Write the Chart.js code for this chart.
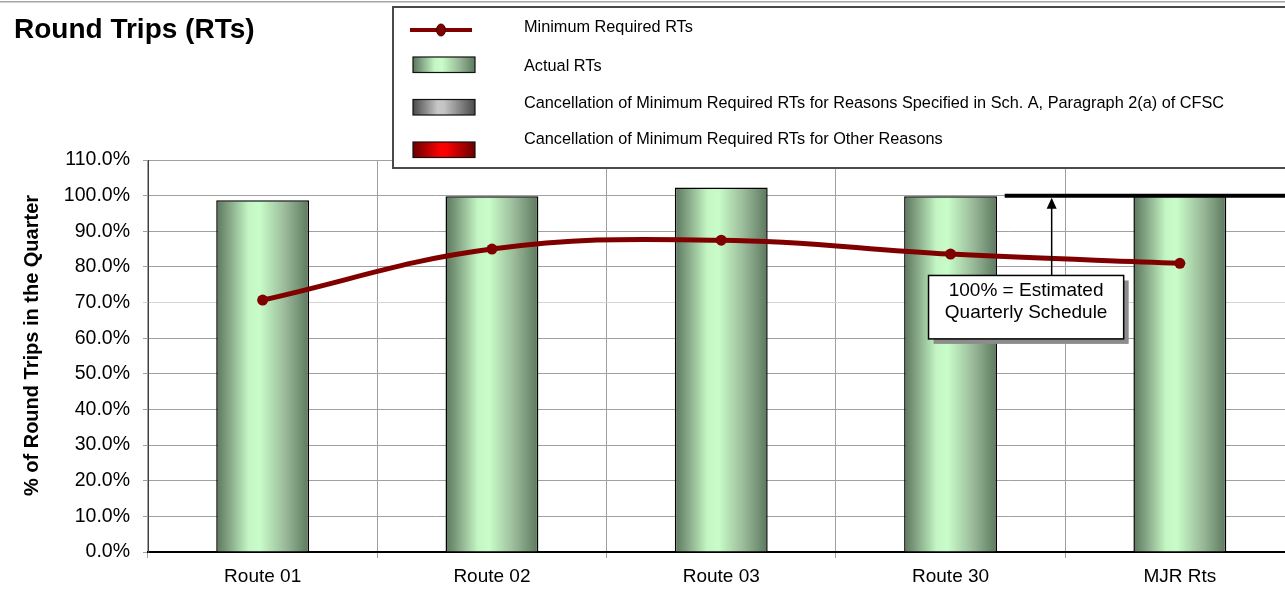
<!DOCTYPE html>
<html><head><meta charset="utf-8">
<script src="https://cdn.jsdelivr.net/npm/chart.js@4.4.1/dist/chart.umd.min.js"></script>
<style>
html,body{margin:0;padding:0;background:#fff;overflow:hidden;width:1285px;height:603px}
#wrap{position:absolute;left:0;top:0;width:1300px;height:603px}
canvas{display:block}
</style></head><body>
<div id="wrap"><canvas id="c" width="1300" height="603"></canvas></div>
<script>
const chartTitle = 'Round Trips (RTs)';
const yAxisTitle = '% of Round Trips in the Quarter';
const categories = ['Route 01', 'Route 02', 'Route 03', 'Route 30', 'MJR Rts'];
const actualRTs = [98.7, 99.8, 102.3, 99.8, 100.1];
const minRequiredRTs = [70.7, 85.0, 87.5, 83.6, 81.0];
const yTickValues = [0, 10, 20, 30, 40, 50, 60, 70, 80, 90, 100, 110];
const legendLabels = [
  'Minimum Required RTs',
  'Actual RTs',
  'Cancellation of Minimum Required RTs for Reasons Specified in Sch. A, Paragraph 2(a) of CFSC',
  'Cancellation of Minimum Required RTs for Other Reasons'
];
const noteLines = ['100% = Estimated', 'Quarterly Schedule'];
const scheduleLevel = 100;

const FONT = '"Liberation Sans", Arial, sans-serif';
const LINE_COLOR = '#800000';

function hGrad(ctx, x0, x1, stops) {
  const g = ctx.createLinearGradient(x0, 0, x1, 0);
  stops.forEach(s => g.addColorStop(s[0], s[1]));
  return g;
}
const greenStops = [[0, '#5b775d'], [0.12, '#7f9f80'], [0.35, '#c4f6c4'], [0.47, '#c8fcc8'], [0.75, '#98b898'], [1, '#5c785e']];
const grayStops = [[0, '#4a4a4a'], [0.4, '#c8c8c8'], [0.5, '#c4c4c4'], [1, '#4a4a4a']];
const redStops = [[0, '#6a0000'], [0.45, '#ff0000'], [0.55, '#f80000'], [1, '#6a0000']];

function barFill(context) {
  const chart = context.chart;
  const xs = chart.scales.x;
  if (!xs || !chart.chartArea) return '#b0e0b0';
  const step = (xs.right - xs.left) / categories.length;
  const w = step * 0.405;
  const xc = xs.getPixelForValue(context.dataIndex);
  return hGrad(chart.ctx, xc - w / 2, xc + w / 2, greenStops);
}

const decorPlugin = {
  id: 'decor',
  afterDatasetsDraw(chart) {
    const { ctx, chartArea: a, scales: { x, y } } = chart;
    const step = (a.right - a.left) / categories.length;
    const yy = y.getPixelForValue(scheduleLevel);
    const base = x.getPixelForValue(3);
    ctx.save();
    ctx.strokeStyle = '#000';
    ctx.lineWidth = 4;
    ctx.beginPath();
    ctx.moveTo(base + step * 0.236, yy);
    ctx.lineTo(a.right + 10, yy);
    ctx.stroke();
    const bl = base - step * 0.096, br = base + step * 0.755;
    const bt = y.getPixelForValue(77.6), bb = y.getPixelForValue(59.8);
    const ax = base + step * 0.441;
    ctx.lineWidth = 1.5;
    ctx.beginPath();
    ctx.moveTo(ax, bt);
    ctx.lineTo(ax, yy + 10);
    ctx.stroke();
    ctx.fillStyle = '#000';
    ctx.beginPath();
    ctx.moveTo(ax, yy + 2);
    ctx.lineTo(ax - 5, yy + 13);
    ctx.lineTo(ax + 5, yy + 13);
    ctx.closePath();
    ctx.fill();
    ctx.fillStyle = '#8c8c8c';
    ctx.fillRect(bl + 5, bt + 5, br - bl, bb - bt);
    ctx.fillStyle = '#fff';
    ctx.fillRect(bl, bt, br - bl, bb - bt);
    ctx.strokeStyle = '#000';
    ctx.lineWidth = 1.5;
    ctx.strokeRect(bl, bt, br - bl, bb - bt);
    ctx.fillStyle = '#000';
    ctx.font = '19px ' + FONT;
    ctx.textAlign = 'center';
    ctx.textBaseline = 'alphabetic';
    ctx.fillText(noteLines[0], (bl + br) / 2, bt + 20.5);
    ctx.fillText(noteLines[1], (bl + br) / 2, bt + 42.5);
    ctx.restore();
  },
  afterDraw(chart) {
    const ctx = chart.ctx;
    ctx.save();
    ctx.fillStyle = '#a6a6a6';
    ctx.fillRect(0, 1, chart.width, 1.5);
    ctx.fillStyle = '#000';
    ctx.font = 'bold 28px ' + FONT;
    ctx.textAlign = 'left';
    ctx.textBaseline = 'alphabetic';
    ctx.fillText(chartTitle, 14, 38.3);
    ctx.save();
    ctx.translate(37.5, 345.5);
    ctx.rotate(-Math.PI / 2);
    ctx.font = 'bold 20px ' + FONT;
    ctx.textAlign = 'center';
    ctx.fillText(yAxisTitle, 0, 0);
    ctx.restore();
    const lx = 393, ly = 7, lw = 1000, lh = 161;
    ctx.fillStyle = '#fff';
    ctx.fillRect(lx, ly, lw, lh);
    ctx.strokeStyle = '#4a4a4a';
    ctx.lineWidth = 2;
    ctx.strokeRect(lx, ly, lw, lh);
    ctx.strokeStyle = LINE_COLOR;
    ctx.lineWidth = 4;
    ctx.beginPath();
    ctx.moveTo(410, 30);
    ctx.lineTo(472, 30);
    ctx.stroke();
    ctx.fillStyle = LINE_COLOR;
    ctx.beginPath();
    ctx.ellipse(441, 30, 4.5, 6, 0, 0, Math.PI * 2);
    ctx.fill();
    ctx.strokeStyle = '#3a0000';
    ctx.lineWidth = 1;
    ctx.stroke();
    const sw = [[57, greenStops], [99.5, grayStops], [142, redStops]];
    sw.forEach(([sy, stops]) => {
      ctx.fillStyle = hGrad(ctx, 413, 475, stops);
      ctx.fillRect(413, sy, 62, 15.5);
      ctx.strokeStyle = '#111';
      ctx.lineWidth = 1.2;
      ctx.strokeRect(413, sy, 62, 15.5);
    });
    ctx.fillStyle = '#000';
    ctx.font = '16.3px ' + FONT;
    ctx.textAlign = 'left';
    const baselines = [31.7, 71, 108.3, 144];
    legendLabels.forEach((t, i) => ctx.fillText(t, 524, baselines[i]));
    ctx.restore();
  }
};

new Chart(document.getElementById('c'), {
  type: 'bar',
  data: {
    labels: categories,
    datasets: [
      {
        type: 'line',
        label: legendLabels[0],
        data: minRequiredRTs,
        borderColor: LINE_COLOR,
        backgroundColor: LINE_COLOR,
        borderWidth: 5,
        pointRadius: 5.5,
        pointBackgroundColor: LINE_COLOR,
        pointBorderWidth: 0,
        tension: 0.4,
        order: 0
      },
      {
        type: 'bar',
        label: legendLabels[1],
        data: actualRTs,
        backgroundColor: barFill,
        borderColor: '#000',
        borderWidth: 1.5,
        barPercentage: 0.405,
        categoryPercentage: 1,
        order: 1
      }
    ]
  },
  options: {
    responsive: false,
    animation: false,
    events: [],
    devicePixelRatio: 1,
    layout: { padding: { top: 160, left: 0, right: 0, bottom: 0 } },
    plugins: { legend: { display: false }, tooltip: { enabled: false }, title: { display: false } },
    scales: {
      x: {
        offset: true,
        grid: { display: true, color: '#a0a0a0', lineWidth: 1, offset: true, tickLength: 6, drawTicks: true },
        border: { color: '#000', width: 2 },
        ticks: { color: '#000', font: { family: FONT, size: 19 }, padding: 7, maxRotation: 0 },
        afterFit(s) { s.height = 51; }
      },
      y: {
        min: 0, max: 110,
        afterBuildTicks(s) { s.ticks = yTickValues.map(v => ({ value: v })); },
        grid: {
          color: c => (c.tick && c.tick.value === 70 ? '#d4d4d4' : '#a0a0a0'),
          lineWidth: 1, tickLength: 5
        },
        border: { color: '#404040', width: 1 },
        ticks: { color: '#000', font: { family: FONT, size: 19.5 }, padding: 13, callback: v => Number(v).toFixed(1) + '%' },
        afterFit(s) { s.width = 148; }
      }
    }
  },
  plugins: [decorPlugin]
});
</script>
</body></html>
